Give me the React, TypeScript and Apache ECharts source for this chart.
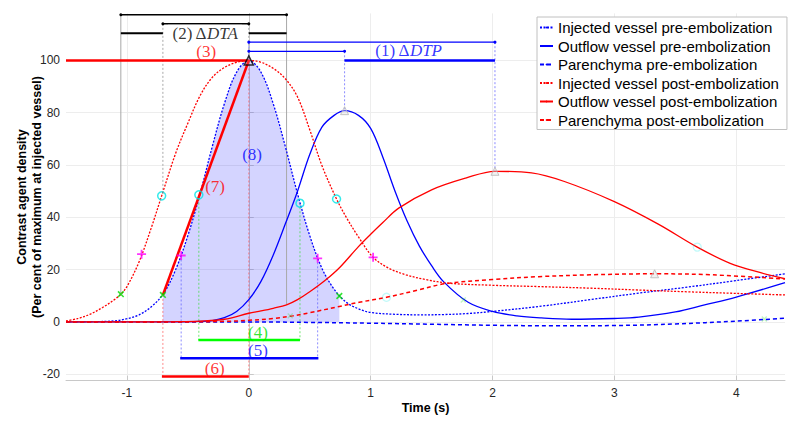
import React, { useEffect, useRef } from "react";
import * as echarts from "echarts";

const xTicks = [-1, 0, 1, 2, 3, 4];
const yTicks = [-20, 0, 20, 40, 60, 80, 100];

const curveNames = [
  "Injected vessel pre-embolization",
  "Outflow vessel pre-embolization",
  "Parenchyma pre-embolization",
  "Injected vessel post-embolization",
  "Outflow vessel post-embolization",
  "Parenchyma post-embolization",
];

const injectedPre: number[][] = [
  [-1.5, 0], [-1.3, 0.05], [-1.1, 0.4], [-1.0, 1.2], [-0.9, 2.7], [-0.8, 5.8], [-0.7, 10.8],
  [-0.6, 20], [-0.5, 33], [-0.4, 49], [-0.3, 67], [-0.2, 83.5], [-0.1, 95.5], [0, 100],
  [0.1, 95.5], [0.2, 83.5], [0.3, 67], [0.4, 49], [0.5, 33], [0.6, 20.5], [0.7, 12.5],
  [0.8, 7.5], [0.9, 5], [1.0, 3.6], [1.2, 2.9], [1.4, 2.7], [1.6, 2.8], [1.8, 3.2],
  [2.0, 4], [2.4, 6], [2.8, 8.5], [3.2, 11], [3.6, 13.3], [4.0, 15.8], [4.4, 18.4],
];

const outflowPre: number[][] = [
  [-1.5, 0], [-0.6, 0], [-0.4, 0.2], [-0.3, 0.5], [-0.2, 1.6], [-0.1, 4], [0, 8.5],
  [0.1, 15.5], [0.2, 25.5], [0.3, 37.5], [0.4, 50], [0.5, 64], [0.6, 74.5], [0.7, 79],
  [0.786, 80.8], [0.9, 79], [1.0, 74], [1.1, 63], [1.2, 50], [1.3, 38.5], [1.4, 29],
  [1.5, 21.5], [1.6, 15.3], [1.8, 7.5], [2.0, 4], [2.2, 2.3], [2.4, 1.5], [2.65, 1.0],
  [3.0, 1.3], [3.2, 1.8], [3.5, 3.8], [3.74, 6.5], [4.0, 9.5], [4.4, 15],
];

const parenchymaPre: number[][] = [
  [-1.5, 0], [0, 0], [0.5, -0.2], [1.0, -0.5], [1.5, -0.9], [2.0, -1.3], [2.5, -1.5],
  [3.0, -1.4], [3.5, -0.8], [4.0, 0.3], [4.4, 1.4],
];

const injectedPost: number[][] = [
  [-1.5, 0.4], [-1.4, 1.3], [-1.3, 3], [-1.2, 5.5], [-1.1, 8.6], [-1.05, 10.6], [-1.0, 13.5],
  [-0.9, 23], [-0.8, 36], [-0.715, 48.2], [-0.6, 64.5], [-0.5, 76], [-0.4, 86.5],
  [-0.3, 93.5], [-0.2, 97.3], [-0.1, 99.3], [0, 100], [0.1, 99.3], [0.2, 97], [0.3, 93],
  [0.4, 86], [0.5, 73.5], [0.6, 59.8], [0.72, 47], [0.8, 40], [0.9, 32.5], [1.02, 24.7],
  [1.15, 20.5], [1.29, 18], [1.45, 16.2], [1.64, 14.8], [2.0, 14], [2.38, 13.5],
  [2.8, 12.9], [3.19, 12.2], [3.6, 11.5], [4.0, 10.9], [4.4, 10.3],
];

const outflowPost: number[][] = [
  [-1.5, 0], [-1.0, 0], [-0.6, 0.1], [-0.4, 0.3], [-0.2, 1.0], [0, 3.3], [0.1, 4.2],
  [0.2, 5.2], [0.31, 6.5], [0.4, 8.5], [0.5, 11.5], [0.63, 16], [0.75, 21], [0.9, 28.8],
  [1.0, 33.5], [1.1, 38], [1.23, 43.5], [1.5, 50.5], [1.78, 55], [2.02, 57.6], [2.32, 57],
  [2.59, 53.7], [3.0, 46], [3.36, 37.4], [3.68, 28.6], [3.95, 22.4], [4.2, 18.8], [4.4, 16.5],
];

const parenchymaPost: number[][] = [
  [-1.5, 0], [-0.5, 0], [-0.2, 0.2], [0, 0.6], [0.2, 1.3], [0.36, 2.3], [0.5, 3.5],
  [0.743, 5.9], [0.906, 7.5], [1.13, 9.4], [1.4, 12.3], [1.61, 14.6], [2.0, 16.2],
  [2.38, 17.3], [2.8, 18], [3.33, 18.4], [3.8, 18], [4.4, 16.4],
];

const shadedRegion: number[][] = [
  [-0.705, 10.3], [-0.6, 20], [-0.5, 33], [-0.4, 49], [-0.3, 67], [-0.2, 83.5], [-0.1, 95.5],
  [0, 100], [0.1, 95.5], [0.2, 83.5], [0.3, 67], [0.4, 49], [0.5, 33], [0.6, 20.5],
  [0.7, 12.5], [0.743, 9.9],
];

// vertical guides: [x, fromY, toY]
const greyGuides = [[-1.05, 117.5, 10.6], [0.31, 117.5, 6.5]];
const greyDotGuides = [[-0.705, 114, 48.2], [0, 114, 100]];
const blueDotGuides = [[0, 107, 100], [0.786, 103.5, 80.8], [2.02, 107, 57.6], [-0.555, 25.4, -13.9], [0.565, 24.3, -13.9]];
const redDotGuides = [[-0.705, 10.3, -20.9], [0, 100, -20.9]];
const greenDotGuides = [[-0.41, 48.6, -6.9], [0.42, 45.4, -6.9]];

// horizontal bars: [x1, x2, y]
const blackThinBars = [[-1.05, 0.31, 117.5], [-0.705, 0, 114]];
const blackThickBars = [[-1.05, -0.705, 110.4], [0, 0.31, 110.4]];
const blueThinBars = [[0, 2.02, 107], [0, 0.786, 103.5]];
const blueThickBars = [[0.786, 2.02, 100], [-0.563, 0.571, -13.9]];
const redBars = [[-1.5, 0, 100], [-0.713, 0, -20.9]];
const greenBars = [[-0.414, 0.42, -6.9]];
const slopeLine = [[-0.705, 10.3], [0, 100]];

// markers
const cyanCircles = [[-0.715, 48.2], [-0.41, 48.6], [0.42, 45.4], [0.72, 47]];
const magentaPlus = [[-0.88, 25.9], [-0.555, 25.4], [0.565, 24.3], [1.02, 24.7]];
const greenCross = [[-1.05, 10.6], [-0.705, 10.3], [0.743, 9.9]];
const peakTriangle = [[0, 100]];
const faintTriangles = [[0.786, 80.8], [2.02, 57.6], [3.33, 18.4]];
const faintCircles = [[1.13, 9.4], [3.68, 28.6]];
const faintCross = [[1.76, 8.4], [4.23, 1.1], [0.34, 2.3]];

// annotation labels
const labelTexts = ["(1) Δ|DTP", "(2) Δ|DTA", "(3)", "(4)", "(5)", "(6)", "(7)", "(8)"];
const labelPositions = [[1.31, 103.8], [-0.36, 110.4], [-0.35, 103.4], [0.075, -4.1], [0.075, -10.8], [-0.28, -18], [-0.277, 51.7], [0.027, 63.9]];
const labelColors = ["#0000ff", "#000000", "#ff0000", "#00e000", "#0000ff", "#ff0000", "#ff0000", "#0000ff"];

const BLUE = "#0000ff";
const RED = "#ff0000";
const SERIF = "'Liberation Serif', 'DejaVu Serif', serif";
const SANS = "'Liberation Sans', Arial, Helvetica, sans-serif";

const PLUS = "path://M4,0H6V4H10V6H6V10H4V6H0V4H4Z";

function vertical(g: number[][], color: string, type: any, width = 1) {
  return g.map((v) => ({
    type: "line", silent: true, symbol: "none", z: 3,
    data: [[v[0], v[1]], [v[0], v[2]]],
    lineStyle: { color, width, type },
  }));
}
function horizontal(g: number[][], color: string, width: number, dots: boolean) {
  return g.map((v) => ({
    type: "line", silent: true, z: 4,
    symbol: dots ? "circle" : "none", symbolSize: 3, showSymbol: dots,
    itemStyle: { color },
    data: [[v[0], v[2]], [v[1], v[2]]],
    lineStyle: { color, width },
  }));
}

export default function App() {
  const ref = useRef<HTMLDivElement>(null);
  useEffect(() => {
    const chart = echarts.init(ref.current!, null, { renderer: "svg" });
    const curveData = [injectedPre, outflowPre, parenchymaPre, injectedPost, outflowPost, parenchymaPost];
    const curveColor = [BLUE, BLUE, BLUE, RED, RED, RED];
    const curveType: any[] = [[2, 1.5], "solid", [4, 3], [2, 1.5], "solid", [4, 3]];
    const curveWidth = [1.3, 1.3, 1.5, 1.3, 1.3, 1.5];

    const curves = curveData.map((d, i) => ({
      name: curveNames[i], type: "line", data: d, symbol: "none", smooth: 0.35, z: 3,
      lineStyle: { color: curveColor[i], width: curveWidth[i], type: curveType[i] },
      itemStyle: { color: curveColor[i] },
    }));

    const labelSeries = {
      type: "scatter", silent: true, z: 8, symbolSize: 0,
      data: labelTexts.map((t, i) => {
        const parts = t.split("|");
        const formatter = parts.length > 1 ? `{n|${parts[0]}}{i|${parts[1]}}` : `{n|${parts[0]}}`;
        return {
          value: labelPositions[i],
          label: {
            show: true, position: "inside", formatter,
            backgroundColor: i === 1 ? "#ffffff" : "transparent",
            padding: i === 1 ? [0, 4] : 0,
            rich: {
              n: { fontFamily: SERIF, fontSize: 17, color: labelColors[i] },
              i: { fontFamily: SERIF, fontSize: 17, fontStyle: "italic", color: labelColors[i] },
            },
          },
        };
      }),
    };

    const option: any = {
      animation: false,
      backgroundColor: "#ffffff",
      grid: { left: 66, right: 15, top: 13.4, bottom: 48.3, containLabel: false, outerBoundsMode: "none" },
      legend: {
        data: curveNames, orient: "vertical", left: 537, top: 17, padding: [3, 8, 2, 2],
        itemGap: 3.5, itemWidth: 13, itemHeight: 2,
        backgroundColor: "#ffffff", borderColor: "#c0c0c0", borderWidth: 1,
        textStyle: { fontFamily: SANS, fontSize: 15, color: "#000" },
        selectedMode: false,
      },
      xAxis: {
        type: "value", min: -1.5, max: 4.4,
        name: "Time (s)", nameLocation: "middle", nameGap: 21, nameMoveOverlap: false,
        nameTextStyle: { fontFamily: SANS, fontWeight: "bold", fontSize: 12.5, color: "#000" },
        axisLine: { show: true, onZero: false, lineStyle: { color: "#c8c8c8" } },
        axisTick: { show: true, inside: true, length: 5, customValues: xTicks, lineStyle: { color: "#c8c8c8" } },
        axisLabel: { customValues: xTicks, color: "#262626", fontFamily: SANS, fontSize: 12, margin: 6 },
        splitLine: { show: true, lineStyle: { color: "#ededed" } },
      },
      yAxis: {
        type: "value", min: -22.5, max: 118,
        name: "Contrast agent density\n(Per cent of maximum at injected vessel)",
        nameLocation: "middle", nameGap: 22, nameMoveOverlap: false,
        nameTextStyle: { fontFamily: SANS, fontWeight: "bold", fontSize: 12.5, color: "#000", lineHeight: 15 },
        axisLine: { show: true, lineStyle: { color: "#c8c8c8" } },
        axisTick: { show: true, inside: true, length: 5, customValues: yTicks, lineStyle: { color: "#c8c8c8" } },
        axisLabel: { customValues: yTicks, color: "#262626", fontFamily: SANS, fontSize: 12, margin: 6 },
        splitLine: { show: true, lineStyle: { color: "#ededed" } },
      },
      series: [
        {
          type: "line", silent: true, data: shadedRegion, symbol: "none", smooth: 0.35, z: 1,
          lineStyle: { width: 0 }, areaStyle: { color: "rgba(0,0,255,0.17)", opacity: 1 },
        },
        ...vertical(greyGuides, "#a8a8a8", "solid", 1),
        ...vertical(greyDotGuides, "#a8a8a8", [2, 2], 1),
        ...vertical(blueDotGuides, "rgba(90,90,255,0.7)", [2, 2], 1),
        ...vertical(redDotGuides, "rgba(255,90,90,0.7)", [2, 2], 1),
        ...vertical(greenDotGuides, "rgba(60,220,60,0.7)", [2, 2], 1),
        ...curves,
        ...horizontal(blackThinBars, "#000000", 1.5, true),
        ...horizontal(blackThickBars, "#000000", 2.2, false),
        ...horizontal(blueThinBars, BLUE, 1.3, true),
        ...horizontal(blueThickBars, BLUE, 2.5, false),
        ...horizontal(redBars, RED, 2.5, false),
        ...horizontal(greenBars, "#00ff00", 2.5, false),
        {
          type: "line", silent: true, symbol: "none", z: 5, data: slopeLine,
          lineStyle: { color: RED, width: 2.5 },
        },
        {
          type: "scatter", silent: true, z: 6, data: faintTriangles, symbol: "triangle", symbolSize: 8,
          itemStyle: { color: "rgba(220,220,220,0.5)", borderColor: "#b8b8b8", borderWidth: 1 },
        },
        {
          type: "scatter", silent: true, z: 6, data: faintCircles, symbol: "circle", symbolSize: 8,
          itemStyle: { color: "transparent", borderColor: "rgba(0,230,230,0.3)", borderWidth: 1.3 },
        },
        {
          type: "scatter", silent: true, z: 6, data: faintCross, symbol: PLUS, symbolSize: 7, symbolRotate: 45,
          itemStyle: { color: "rgba(0,220,0,0.3)" },
        },
        {
          type: "scatter", silent: true, z: 7, data: cyanCircles, symbol: "circle", symbolSize: 8,
          itemStyle: { color: "transparent", borderColor: "#00e5e5", borderWidth: 1.5 },
        },
        {
          type: "scatter", silent: true, z: 7, data: magentaPlus, symbol: PLUS, symbolSize: 9,
          itemStyle: { color: "#ff00ff" },
        },
        {
          type: "scatter", silent: true, z: 7, data: greenCross, symbol: PLUS, symbolSize: 8, symbolRotate: 45,
          itemStyle: { color: "#00dd00" },
        },
        {
          type: "scatter", silent: true, z: 7, data: peakTriangle, symbol: "triangle", symbolSize: 9,
          itemStyle: { color: "rgba(255,255,255,0.2)", borderColor: "#000", borderWidth: 1.5 },
        },
        labelSeries,
      ],
    };
    chart.setOption(option);
    return () => chart.dispose();
  }, []);
  return <div ref={ref} style={{ position: "fixed", left: 0, top: 0, width: 800, height: 429 }} />;
}
